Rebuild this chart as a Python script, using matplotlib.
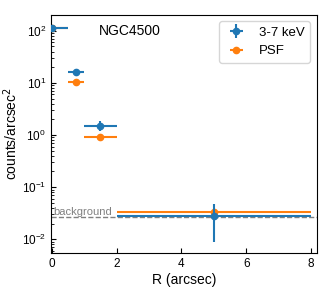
import matplotlib
matplotlib.use("Agg")
import matplotlib.pyplot as plt

plt.rcParams['font.family'] = ['Liberation Sans', 'DejaVu Sans']

# radial bins (arcsec)
r = [0.0, 0.75, 1.5, 5.0]
r_err = [0.5, 0.25, 0.5, 3.0]

# 3-7 keV surface brightness
sb = [115, 16.5, 1.5, 0.028]
sb_err = [8, 1.6, 0.33, 0.019]

# PSF profile
psf = [115, 10.4, 0.93, 0.034]

bkg = 0.027

fig = plt.figure(figsize=(3.24, 2.91), dpi=100)
ax = fig.add_axes([0.157, 0.13, 0.82, 0.82])

ax.errorbar(r, sb, xerr=r_err, yerr=sb_err, fmt='o', ms=4.5, lw=1.5,
            color='tab:blue', label='3-7 keV', zorder=3)
ax.errorbar(r, psf, xerr=r_err, fmt='o', ms=4.5, lw=1.5,
            color='tab:orange', label='PSF', zorder=2)
ax.axhline(bkg, color='gray', ls='--', lw=1, zorder=1)
ax.text(0.05, bkg * 1.08, 'background', color='gray', fontsize=8)
ax.text(1.45, 100, 'NGC4500', fontsize=10, va='center')

ax.set_yscale('log')
ax.set_xlim(-0.03, 8.17)
ax.set_ylim(5.4e-3, 2.05e2)
ax.set_xticks([0, 2, 4, 6, 8])
ax.tick_params(which='both', direction='in', labelsize=8.5)
ax.set_xlabel('R (arcsec)', fontsize=10, labelpad=2)
ax.set_ylabel('counts/arcsec$^2$', fontsize=10, labelpad=1)
ax.legend(loc='upper right', fontsize=9.5, handlelength=1.8)

fig.savefig('out.png', dpi=100)
